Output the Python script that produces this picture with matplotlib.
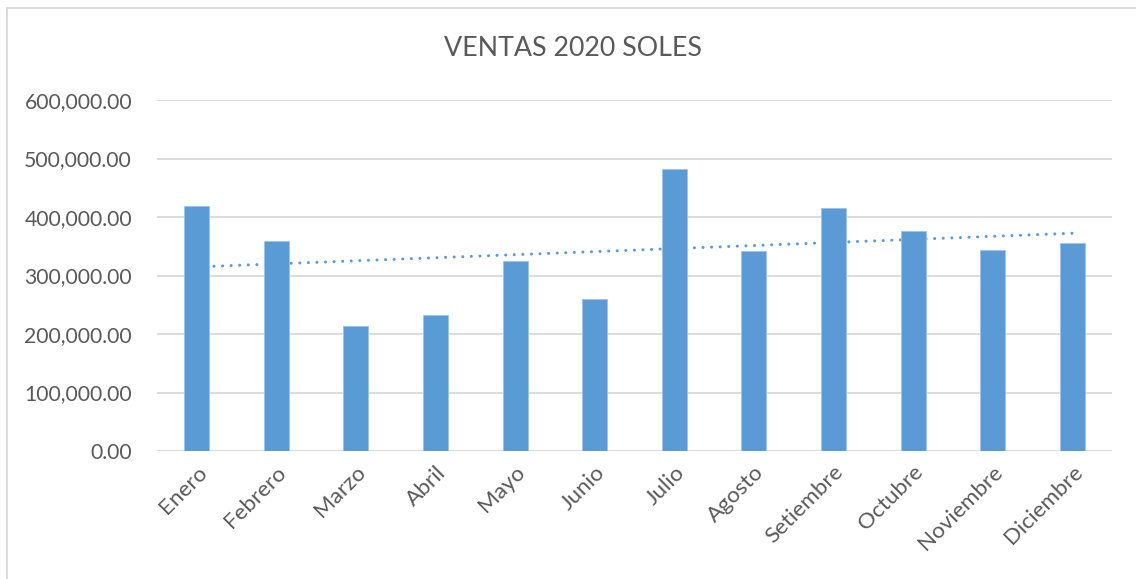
import numpy as np
import matplotlib.pyplot as plt
from matplotlib.patches import Rectangle
from matplotlib.ticker import FuncFormatter

meses = ['Enero', 'Febrero', 'Marzo', 'Abril', 'Mayo', 'Junio', 'Julio',
         'Agosto', 'Setiembre', 'Octubre', 'Noviembre', 'Diciembre']
ventas = [418700, 359000, 213900, 232200, 324300, 259500, 481400,
          341400, 415400, 375600, 344300, 355600]
yticks = [0, 100000, 200000, 300000, 400000, 500000, 600000]

plt.rcParams['font.family'] = ['Lato', 'DejaVu Sans']
gris = '#595959'
azul = '#5B9BD5'

fig = plt.figure(figsize=(11.36, 5.79), dpi=100)
ax = fig.add_axes([157 / 1136, 1 - 451 / 579, 955 / 1136, 351 / 579])

x = np.arange(len(meses))
ax.bar(x, ventas, width=0.315, color=azul, edgecolor='#9dc3e6', linewidth=0.6, zorder=3)

# linea de tendencia lineal
m, b = np.polyfit(x, ventas, 1)
ax.plot(x, m * x + b, color=azul, linewidth=2.2, linestyle=(0, (0.01, 2.8)),
        dash_capstyle='round', zorder=2)

ax.set_xlim(-0.5, len(meses) - 0.5)
ax.set_ylim(0, 600000)
ax.set_yticks(yticks)
ax.yaxis.set_major_formatter(FuncFormatter(lambda v, p: f'{v:,.2f}'))
ax.set_xticks(x)
ax.set_xticklabels(meses, rotation=45, ha='right', rotation_mode='anchor')
ax.grid(axis='y', color='#d9d9d9', linewidth=1.3, zorder=0)
ax.set_axisbelow(True)
for s in ax.spines.values():
    s.set_visible(False)
ax.tick_params(length=0, labelsize=15.2, colors=gris)
ax.tick_params(axis='y', pad=18)
ax.tick_params(axis='x', pad=8, labelsize=16.2)

fig.text(573 / 1136, 1 - 48 / 579, 'VENTAS 2020 SOLES', ha='center', va='center',
         fontsize=19.3, color=gris)

fig.patches.append(Rectangle((7 / 1136, -0.1), 1.2, 1 - 8 / 579 + 0.1,
                             transform=fig.transFigure, fill=False,
                             edgecolor='#d9d9d9', linewidth=1.3))

fig.savefig('out.png', dpi=100)
